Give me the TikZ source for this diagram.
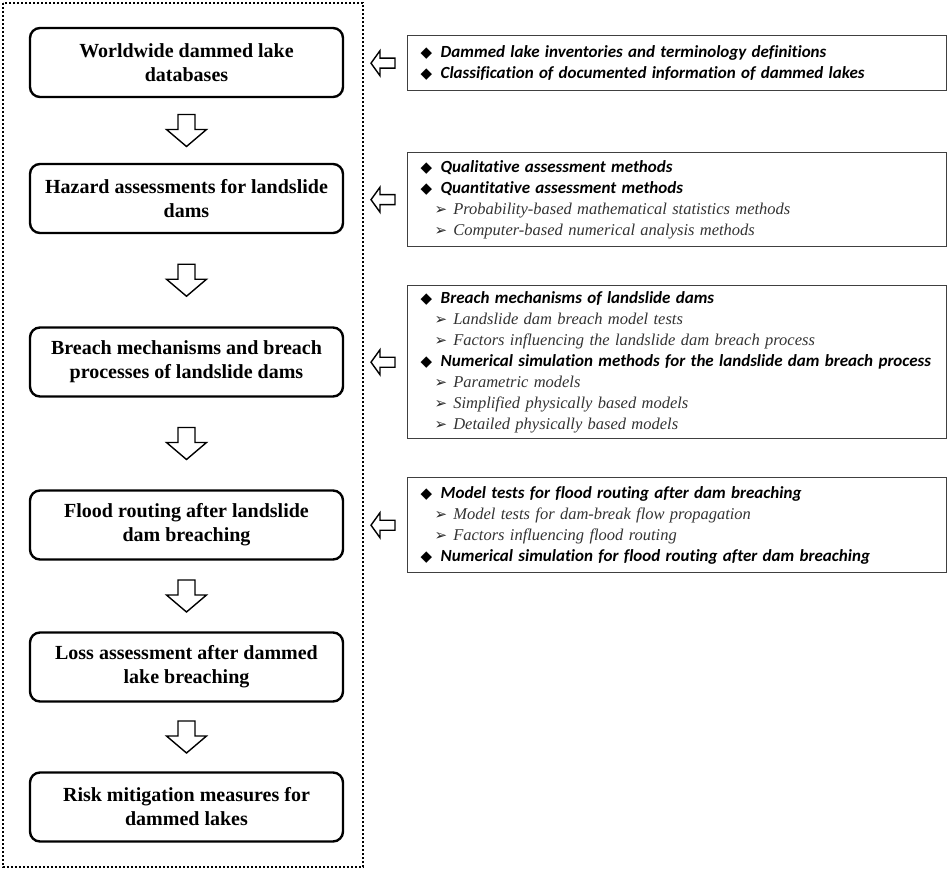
\documentclass[tikz,border=0pt]{standalone}
\usepackage{fontspec}
\setmainfont{Liberation Serif}
\newfontfamily\carlito[Ligatures=NoCommon]{Carlito}
\newfontfamily\dejavu{DejaVu Sans}
\usetikzlibrary{calc}
\newcommand{\mitem}[1]{{\dejavu\fontsize{15}{21}\selectfont ◆}\hspace{8.5pt}{\carlito\fontsize{17}{21}\selectfont\bfseries\itshape #1}}
\newcommand{\sitem}[1]{\hspace{14pt}{\dejavu\fontsize{15}{21}\selectfont\color{black!85}➢}\hspace{6pt}{\fontsize{16.5}{21}\selectfont\itshape\color{black!80}#1}}
\tikzset{
  mainbox/.style={draw, line width=2.4pt, rounded corners=10pt, minimum width=313pt,
    minimum height=69pt, align=center, inner sep=0pt,
    font=\fontsize{20}{24}\selectfont\bfseries},
  rbox/.style={draw=black!75, line width=1.4pt, anchor=north west, align=left,
    text width=513pt, inner xsep=13pt, inner ysep=0pt,
    font=\fontsize{16}{21}\selectfont},
  blockarrow/.style={draw, line width=1.4pt, fill=white, line join=miter},
  dotframe/.style={line width=2.2pt, dash pattern=on 2pt off 2pt},
  darrow/.pic={\draw[blockarrow] (-8.5,-16) -- (8.5,-16) -- (8.5,-1) -- (20,-1) -- (0,16)
     -- (-20,-1) -- (-8.5,-1) -- cycle;},
  larrow/.pic={\draw[blockarrow] (-12,0) -- (-3,-12.5) -- (-3,-5) -- (12,-5) -- (12,5)
     -- (-3,5) -- (-3,12.5) -- cycle;}
}
\begin{document}
\begin{tikzpicture}[x=1pt,y=-1pt]
\useasboundingbox (0,0) rectangle (948,869);
\draw[dotframe] (3,3) rectangle (363,867);

\node[mainbox] (b1) at (186.5,62.5) {Worldwide dammed lake\\databases};
\node[mainbox] (b2) at (186.5,198.5) {Hazard assessments for landslide\\dams};
\node[mainbox] (b3) at (186.5,362) {Breach mechanisms and breach\\processes of landslide dams};
\node[mainbox] (b4) at (186.5,525) {Flood routing after landslide\\dam breaching};
\node[mainbox] (b5) at (186.5,667) {Loss assessment after dammed\\lake breaching};
\node[mainbox] (b6) at (186.5,807) {Risk mitigation measures for\\dammed lakes};

\pic at ($(b1.south)!0.5!(b2.north)$) {darrow};
\pic at ($(b2.south)!0.5!(b3.north)$) {darrow};
\pic at ($(b3.south)!0.5!(b4.north)$) {darrow};
\pic at ($(b4.south)!0.5!(b5.north)$) {darrow};
\pic at ($(b5.south)!0.5!(b6.north)$) {darrow};

\node[rbox, minimum height=55pt] (r1) at (407,35) {%
\mitem{Dammed lake inventories and terminology definitions}\\
\mitem{Classification of documented information of dammed lakes}};

\node[rbox, minimum height=94pt] (r2) at (407,152) {%
\mitem{Qualitative assessment methods}\\
\mitem{Quantitative assessment methods}\\
\sitem{Probability-based mathematical statistics methods}\\
\sitem{Computer-based numerical analysis methods}};

\node[rbox, minimum height=153pt] (r3) at (407,285) {%
\mitem{Breach mechanisms of landslide dams}\\
\sitem{Landslide dam breach model tests}\\
\sitem{Factors influencing the landslide dam breach process}\\
\mitem{Numerical simulation methods for the landslide dam breach process}\\
\sitem{Parametric models}\\
\sitem{Simplified physically based models}\\
\sitem{Detailed physically based models}};

\node[rbox, minimum height=95pt] (r4) at (407,477) {%
\mitem{Model tests for flood routing after dam breaching}\\
\sitem{Model tests for dam-break flow propagation}\\
\sitem{Factors influencing flood routing}\\
\mitem{Numerical simulation for flood routing after dam breaching}};

\pic at ([xshift=-24pt]r1.west) {larrow};
\pic at ([xshift=-24pt]r2.west) {larrow};
\pic at ([xshift=-24pt]r3.west) {larrow};
\pic at ([xshift=-24pt]r4.west) {larrow};
\end{tikzpicture}
\end{document}
